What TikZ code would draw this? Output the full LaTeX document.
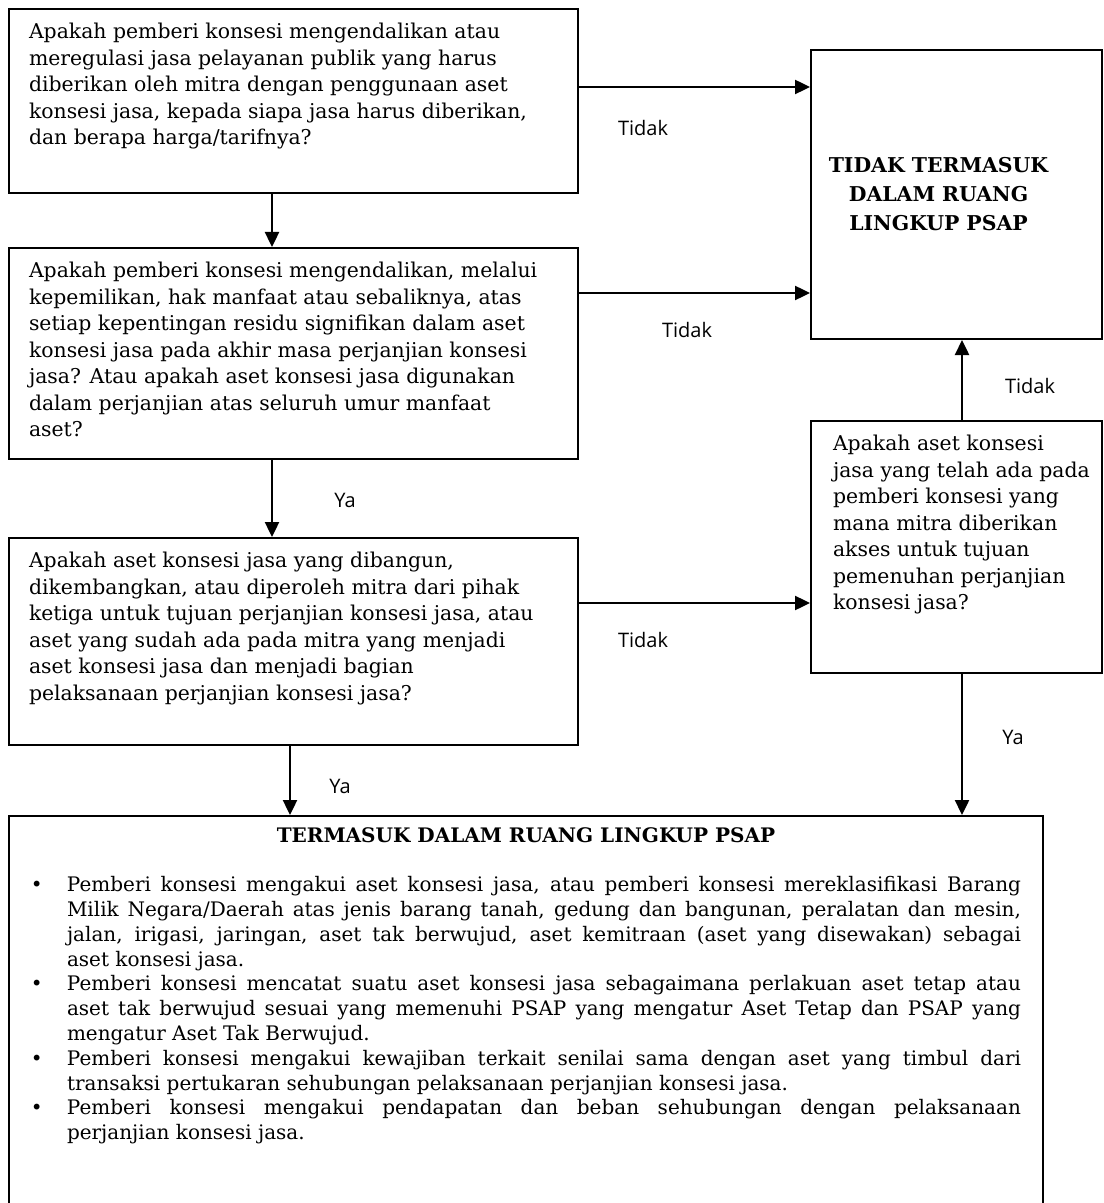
\documentclass[tikz,border=0pt]{standalone}
\usepackage{fontspec}
\setmainfont{DejaVu Serif}
\newfontfamily\labelfont{Open Sans}
\usetikzlibrary{arrows.meta}

\newcommand{\qtext}[3]{\parbox[c][#2][t]{#1}{\begin{tabular}[t]{@{}l@{}}#3\end{tabular}}}
\newcommand{\bitem}[1]{\par\noindent\hangindent=18pt\hangafter=1\makebox[18pt][l]{\textbullet}#1\par}

\begin{document}
\begin{tikzpicture}[x=0.5pt, y=-0.5pt,
  qbox/.style={draw, line width=1pt, anchor=north west, inner xsep=10pt, inner ysep=5.5pt,
    font=\fontsize{10.2}{13.25}\selectfont},
  flow/.style={line width=1.2pt, -{Triangle[length=7.5pt,width=7pt]}},
  lbl/.style={font=\labelfont\fontsize{10}{12}\selectfont}]
  \useasboundingbox (0,0) rectangle (1103,1203);

  \node[qbox] (q1) at (8,8) {\qtext{264.5pt}{81pt}{Apakah pemberi konsesi mengendalikan atau\\
    meregulasi jasa pelayanan publik yang harus\\
    diberikan oleh mitra dengan penggunaan aset\\
    konsesi jasa, kepada siapa jasa harus diberikan,\\
    dan berapa harga/tarifnya?}};
  \node[qbox, inner sep=0pt, minimum width=145.5pt, minimum height=144.5pt] (tt) at (810,49) {};
  \node[align=center, font=\bfseries\fontsize{10.2}{14.5}\selectfont] (ttl) at ([xshift=-9pt]tt.center)
    {TIDAK TERMASUK\\ DALAM RUANG\\ LINGKUP PSAP};
  \node[qbox] (q2) at (8,247) {\qtext{264.5pt}{94.5pt}{Apakah pemberi konsesi mengendalikan, melalui\\
    kepemilikan, hak manfaat atau sebaliknya, atas\\
    setiap kepentingan residu signifikan dalam aset\\
    konsesi jasa pada akhir masa perjanjian konsesi\\
    jasa? Atau apakah aset konsesi jasa digunakan\\
    dalam perjanjian atas seluruh umur manfaat\\
    aset?}};
  \node[qbox] (q3) at (8,537) {\qtext{264.5pt}{92.5pt}{Apakah aset konsesi jasa yang dibangun,\\
    dikembangkan, atau diperoleh mitra dari pihak\\
    ketiga untuk tujuan perjanjian konsesi jasa, atau\\
    aset yang sudah ada pada mitra yang menjadi\\
    aset konsesi jasa dan menjadi bagian\\
    pelaksanaan perjanjian konsesi jasa?}};
  \node[qbox, inner xsep=11pt] (q4) at (810,420) {\qtext{123.5pt}{115pt}{Apakah aset konsesi\\
    jasa yang telah ada pada\\
    pemberi konsesi yang\\
    mana mitra diberikan\\
    akses untuk tujuan\\
    pemenuhan perjanjian\\
    konsesi jasa?}};
  \node[qbox, inner xsep=11pt, inner ysep=6pt, font=\fontsize{10}{12.4}\selectfont] (res) at (8,815)
    {\parbox[c][200pt][t]{495pt}{\tolerance=9999\emergencystretch=10pt
    {\centering\textbf{TERMASUK DALAM RUANG LINGKUP PSAP}\par}
    \vspace{12pt}
    \bitem{Pemberi konsesi mengakui aset konsesi jasa, atau pemberi konsesi mereklasifikasi Barang\linebreak
      Milik Negara/Daerah atas jenis barang tanah, gedung dan bangunan, peralatan dan mesin,\linebreak
      jalan, irigasi, jaringan, aset tak berwujud, aset kemitraan (aset yang disewakan) sebagai\linebreak
      aset konsesi jasa.}
    \bitem{Pemberi konsesi mencatat suatu aset konsesi jasa sebagaimana perlakuan aset tetap atau\linebreak
      aset tak berwujud sesuai yang memenuhi PSAP yang mengatur Aset Tetap dan PSAP yang\linebreak
      mengatur Aset Tak Berwujud.}
    \bitem{Pemberi konsesi mengakui kewajiban terkait senilai sama dengan aset yang timbul dari\linebreak
      transaksi pertukaran sehubungan pelaksanaan perjanjian konsesi jasa.}
    \bitem{Pemberi konsesi mengakui pendapatan dan beban sehubungan dengan pelaksanaan\linebreak
      perjanjian konsesi jasa.}}};

  \draw[flow] (q1.east |- 0,87) -- (tt.west |- 0,87);
  \draw[flow] (q2.east |- 0,293) -- (tt.west |- 0,293);
  \draw[flow] (q3.east |- 0,603) -- (q4.west |- 0,603);
  \draw[flow] (q4.north -| 962,0) -- (tt.south -| 962,0);
  \draw[flow] (q1.south -| 272,0) -- (q2.north -| 272,0);
  \draw[flow] (q2.south -| 272,0) -- (q3.north -| 272,0);
  \draw[flow] (q3.south -| 290,0) -- (res.north -| 290,0);
  \draw[flow] (q4.south -| 962,0) -- (res.north -| 962,0);

  \node[lbl] (t1) at (643,128) {Tidak};
  \node[lbl] (t2) at (687,330) {Tidak};
  \node[lbl] (t3) at (643,640) {Tidak};
  \node[lbl] (t4) at (1030,386) {Tidak};
  \node[lbl] (y1) at (345,500) {Ya};
  \node[lbl] (y2) at (340,786) {Ya};
  \node[lbl] (y3) at (1013,737) {Ya};
\end{tikzpicture}
\end{document}
